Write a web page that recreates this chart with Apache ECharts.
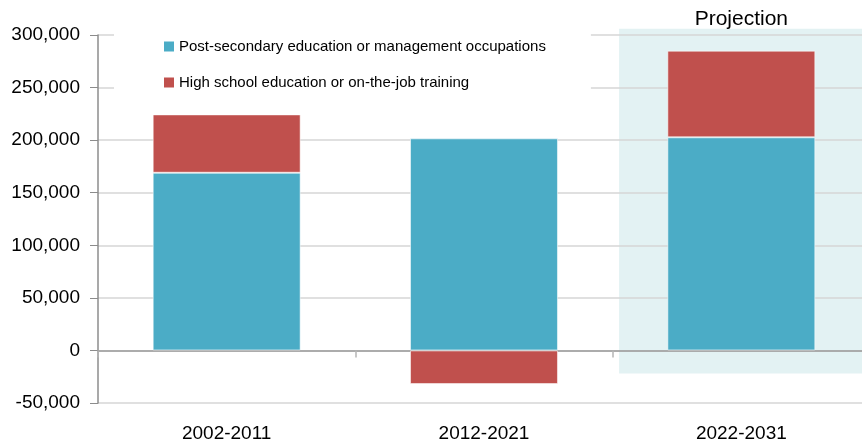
<!DOCTYPE html>
<html><head><meta charset="utf-8">
<script src="https://cdn.jsdelivr.net/npm/echarts@6/dist/echarts.min.js"></script>
<style>html,body{margin:0;padding:0;background:#fff}#c{width:862px;height:447px}</style>
</head><body><div id="c"></div>
<script>
// ---- data ----
const categories = ['2002-2011', '2012-2021', '2022-2031'];
const seriesNames = ['Post-secondary education or management occupations', 'High school education or on-the-job training'];
const postSecondary = [169000, 201700, 202700];
const highSchool = [55500, -32000, 82400];
const yMin = -50000, yMax = 300000, yStep = 50000;
const projectionText = 'Projection';
// shaded projection band: [xStart, xEnd, yTop, yBottom] in category-index / value units
const projectionBand = [[1.525, 2.6, 306000, -22000]];
const projectionCenter = 2;

const FONT = '"Liberation Sans", Arial, sans-serif';
const chart = echarts.init(document.getElementById('c'), null, {renderer: 'canvas'});
chart.setOption({
  animation: false,
  backgroundColor: '#fff',
  textStyle: {fontFamily: FONT},
  grid: {left: 98, top: 35, width: 772, height: 368, containLabel: false, outerBoundsMode: 'none'},
  legend: {
    data: seriesNames,
    orient: 'vertical',
    left: 114, top: 29,
    padding: [10, 45, 10, 50],
    itemGap: 21,
    itemWidth: 10, itemHeight: 10,
    icon: 'rect',
    backgroundColor: '#fff',
    itemStyle: {borderWidth: 0},
    textStyle: {fontSize: 15, color: '#000', fontFamily: FONT}
  },
  xAxis: [{
    type: 'category',
    data: categories,
    position: 'bottom',
    axisLine: {show: false, onZero: false},
    axisTick: {show: false},
    axisLabel: {margin: 21, fontSize: 19, color: '#000', fontFamily: FONT},
    splitLine: {show: false}
  }, {
    type: 'value', min: -0.5, max: 2.5, show: false,
    axisLine: {onZero: false}
  }, {
    type: 'category',
    data: categories,
    position: 'bottom',
    axisLine: {show: true, onZero: true, lineStyle: {color: '#9a9a9a', width: 1.5}},
    axisTick: {show: true, length: 7, lineStyle: {color: '#b5b5b5', width: 1.5}},
    axisLabel: {show: false},
    splitLine: {show: false}
  }],
  yAxis: {
    type: 'value',
    min: yMin, max: yMax, interval: yStep,
    axisLine: {show: true, onZero: false, lineStyle: {color: '#8c8c8c', width: 1.5}},
    axisTick: {show: true, length: 8, lineStyle: {color: '#8c8c8c', width: 1}},
    axisLabel: {margin: 18, fontSize: 19, color: '#000', fontFamily: FONT,
      formatter: v => v.toLocaleString('en-US')},
    splitLine: {show: true, lineStyle: {color: '#d6d6d6', width: 1.5}}
  },
  series: [
    {
      type: 'custom',
      name: 'projection-band',
      xAxisIndex: 1, yAxisIndex: 0,
      z: -1,
      silent: true,
      clip: false,
      data: projectionBand,
      renderItem: function (params, api) {
        const p1 = api.coord([api.value(0), api.value(2)]);
        const p2 = api.coord([api.value(1), api.value(3)]);
        const cx = api.coord([projectionCenter, 0])[0];
        return {type: 'group', children: [
          {type: 'rect', shape: {x: p1[0], y: p1[1], width: p2[0] - p1[0], height: p2[1] - p1[1]},
           style: {fill: '#e3f2f3'}},
          {type: 'text', x: cx, y: p1[1] + 1,
           style: {text: projectionText, fill: '#000', font: '21px ' + FONT, align: 'center', verticalAlign: 'bottom'}}
        ]};
      }
    },
    {
      name: seriesNames[0], type: 'bar', stack: 'total', barWidth: '57.5%',
      data: postSecondary,
      itemStyle: {color: '#4bacc6', borderColor: 'rgba(255,255,255,0.55)', borderWidth: 1}
    },
    {
      name: seriesNames[1], type: 'bar', stack: 'total', barWidth: '57.5%',
      data: highSchool,
      itemStyle: {color: '#c0504d', borderColor: 'rgba(255,255,255,0.55)', borderWidth: 1}
    }
  ]
});
</script>
</body></html>
